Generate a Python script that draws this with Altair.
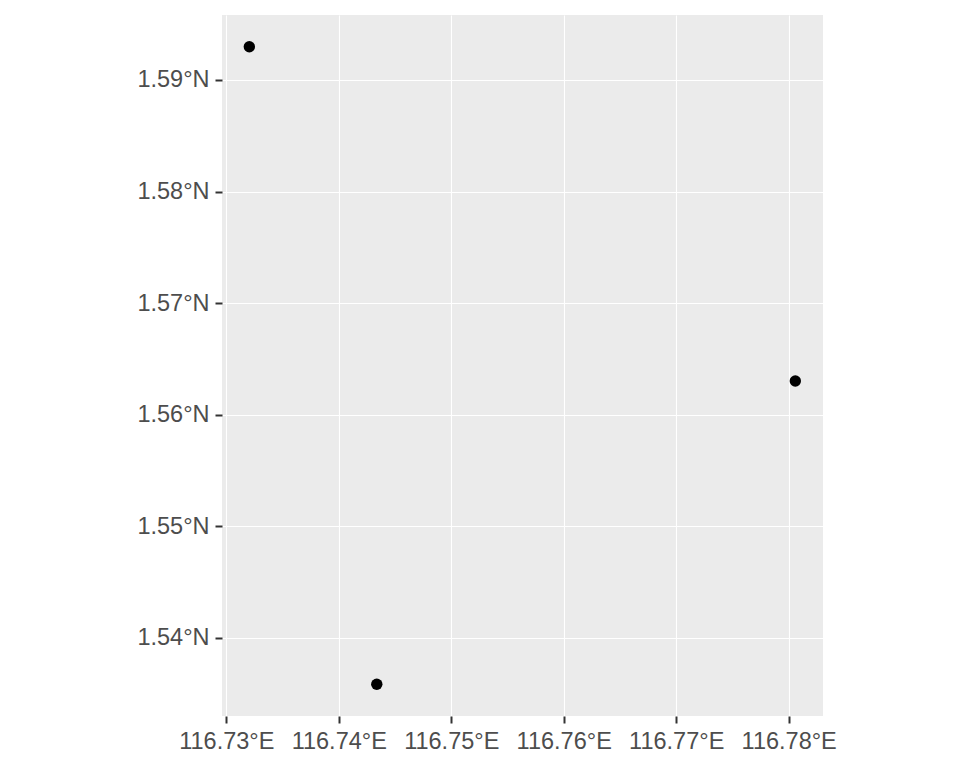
import altair as alt
import pandas as pd

lon = [116.73205, 116.74338, 116.78059]
lat = [1.59298, 1.53585, 1.56303]
x_ticks = [116.73, 116.74, 116.75, 116.76, 116.77, 116.78]
y_ticks = [1.54, 1.55, 1.56, 1.57, 1.58, 1.59]
x_domain = [116.72962, 116.78305]
y_domain = [1.53301, 1.595824]

df = pd.DataFrame({"lon": lon, "lat": lat})

axis_common = dict(
    grid=True, gridColor="white", gridWidth=1.1,
    domain=False, tickColor="#333333", tickWidth=2, tickSize=7,
    labelColor="#4D4D4D", labelFont="Liberation Sans", labelFontSize=23.5,
    title=None,
)

chart = alt.Chart(df).mark_circle(size=130, color="black", opacity=1).encode(
    x=alt.X("lon:Q",
            scale=alt.Scale(domain=x_domain, nice=False, zero=False),
            axis=alt.Axis(values=x_ticks, labelExpr="format(datum.value, '.2f') + '°E'",
                          labelPadding=6, labelOverlap=False, labelBound=False,
                          labelFlush=False, **axis_common)),
    y=alt.Y("lat:Q",
            scale=alt.Scale(domain=y_domain, nice=False, zero=False),
            axis=alt.Axis(values=y_ticks, labelExpr="format(datum.value, '.2f') + '°N'",
                          labelPadding=6, labelOverlap=False, **axis_common)),
).properties(
    width=601, height=701,
    autosize=alt.AutoSizeParams(type="none"),
    padding={"left": 214, "top": 7, "right": 60, "bottom": 50},
).configure_view(
    fill="#EBEBEB", stroke=None
)

chart.save("out.html", embed_options={"renderer": "svg", "actions": False})
